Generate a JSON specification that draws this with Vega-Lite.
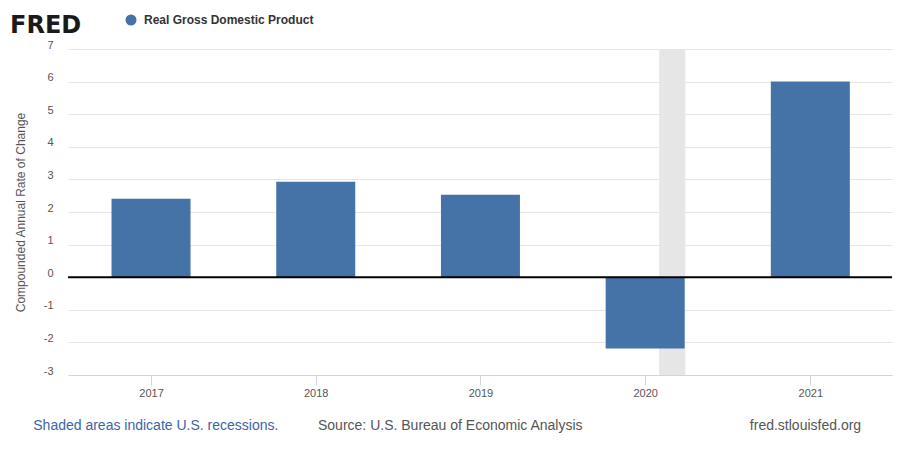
{
  "$schema": "https://vega.github.io/schema/vega-lite/v6.json",
  "width": 824,
  "height": 326,
  "autosize": {"type": "none"},
  "padding": {"left": 68, "top": 49, "right": 20, "bottom": 75},
  "background": "#ffffff",
  "title": {
    "text": "FRED",
    "anchor": "start",
    "frame": "group",
    "dx": -58,
    "dy": 63,
    "offset": 20,
    "baseline": "alphabetic",
    "font": "DejaVu Sans",
    "fontSize": 24,
    "fontWeight": "bold",
    "color": "#1a1a1a"
  },
  "config": {
    "font": "Liberation Sans",
    "view": {"stroke": null},
    "axisY": {
      "domain": false,
      "ticks": false,
      "labelPadding": 15,
      "labelOffset": -4,
      "labelFontSize": 11,
      "labelColor": "#555555",
      "labelFont": "Liberation Sans",
      "labelOverlap": false,
      "gridColor": "#e6e6e6",
      "gridWidth": 1
    }
  },
  "datasets": {
    "gdp": [
      {"date": "2017-01-01", "value": 2.41},
      {"date": "2018-01-01", "value": 2.93},
      {"date": "2019-01-01", "value": 2.53},
      {"date": "2020-01-01", "value": -2.19},
      {"date": "2021-01-01", "value": 6.0}
    ],
    "recessions": [
      {"start": "2020-02-01", "end": "2020-03-30"}
    ]
  },
  "layer": [
    {
      "data": {"name": "recessions"},
      "mark": {"type": "rect", "color": "#e6e6e6"},
      "encoding": {
        "x": {
          "field": "start",
          "type": "temporal",
          "scale": {
            "type": "utc",
            "padding": 0,
            "domain": [
              {"year": 2016, "month": 7, "date": 1, "utc": true},
              {"year": 2021, "month": 7, "date": 1, "utc": true}
            ]
          },
          "axis": {
            "title": null,
            "format": "%Y",
            "tickCount": {"interval": "year", "step": 1},
            "grid": false,
            "domainColor": "#ccd6eb",
            "domainWidth": 1,
            "tickColor": "#ccd6eb",
            "tickSize": 10,
            "labelPadding": 2,
            "labelFontSize": 11,
            "labelColor": "#555555",
            "labelFont": "Liberation Sans"
          }
        },
        "x2": {"field": "end"}
      }
    },
    {
      "data": {"name": "gdp"},
      "mark": {"type": "bar", "width": 79},
      "encoding": {
        "x": {"field": "date", "type": "temporal"},
        "y": {
          "field": "value",
          "type": "quantitative",
          "scale": {"domain": [-3, 7], "nice": false, "zero": false},
          "axis": {
            "title": "Compounded Annual Rate of Change",
            "titleFontSize": 12,
            "titleFontWeight": "normal",
            "titleColor": "#555555",
            "titleFont": "Liberation Sans",
            "titleX": -48,
            "titleY": 163,
            "titleAngle": 270,
            "titleBaseline": "middle",
            "titleAlign": "center",
            "values": [-3, -2, -1, 0, 1, 2, 3, 4, 5, 6, 7],
            "tickCount": 20,
            "labelExpr": "datum.value + ''"
          }
        },
        "color": {
          "datum": "Real Gross Domestic Product",
          "scale": {"range": ["#4572a7"]},
          "legend": {
            "title": null,
            "orient": "none",
            "legendX": 57,
            "legendY": -35,
            "padding": 0,
            "symbolType": "circle",
            "symbolSize": 121,
            "symbolStrokeWidth": 0,
            "labelFont": "Liberation Sans",
            "labelFontSize": 12,
            "labelFontWeight": "bold",
            "labelColor": "#333333",
            "labelOffset": 7,
            "labelLimit": 400
          }
        }
      }
    },
    {
      "data": {"values": [{}]},
      "mark": {"type": "rule", "color": "#000000", "strokeWidth": 2},
      "encoding": {
        "y": {
          "datum": 0,
          "type": "quantitative",
          "axis": {
            "title": "Compounded Annual Rate of Change",
            "titleFontSize": 12,
            "titleFontWeight": "normal",
            "titleColor": "#555555",
            "titleFont": "Liberation Sans",
            "titleX": -48,
            "titleY": 163,
            "titleAngle": 270,
            "titleBaseline": "middle",
            "titleAlign": "center",
            "values": [-3, -2, -1, 0, 1, 2, 3, 4, 5, 6, 7],
            "tickCount": 20,
            "labelExpr": "datum.value + ''"
          }
        }
      }
    },
    {
      "data": {"values": [{}]},
      "mark": {"type": "text", "text": "Shaded areas indicate U.S. recessions.", "align": "left", "baseline": "middle", "fontSize": 14, "color": "#3c64a8", "font": "Liberation Sans"},
      "encoding": {
        "x": {"datum": {"year": 2016, "month": 4, "date": 15, "utc": true}, "type": "temporal"},
        "y": {"datum": -4.55, "type": "quantitative"}
      }
    },
    {
      "data": {"values": [{}]},
      "mark": {"type": "text", "text": "Source: U.S. Bureau of Economic Analysis", "align": "left", "baseline": "middle", "fontSize": 14, "color": "#555555", "font": "Liberation Sans"},
      "encoding": {
        "x": {"datum": {"year": 2018, "month": 1, "date": 6, "utc": true}, "type": "temporal"},
        "y": {"datum": -4.55, "type": "quantitative"}
      }
    },
    {
      "data": {"values": [{}]},
      "mark": {"type": "text", "text": "fred.stlouisfed.org", "align": "left", "baseline": "middle", "fontSize": 14, "color": "#555555", "font": "Liberation Sans"},
      "encoding": {
        "x": {"datum": {"year": 2020, "month": 8, "date": 20, "utc": true}, "type": "temporal"},
        "y": {"datum": -4.55, "type": "quantitative"}
      }
    }
  ]
}
